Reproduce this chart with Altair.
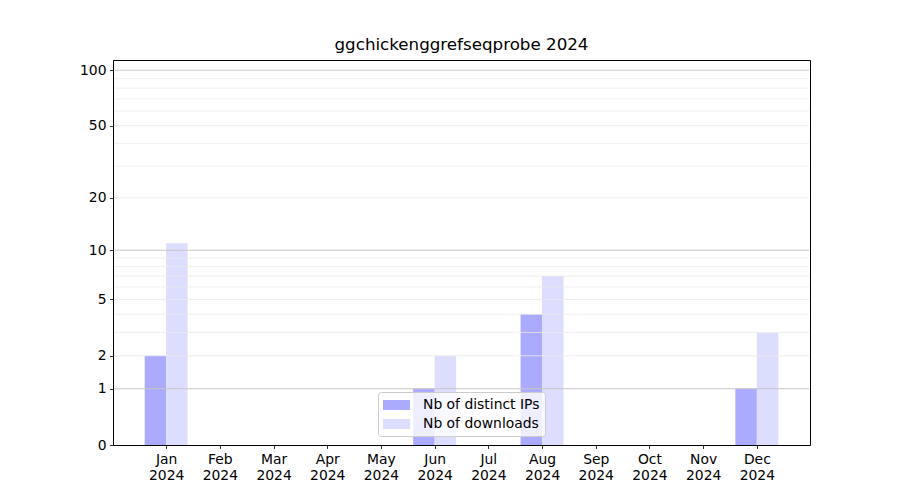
import altair as alt
import pandas as pd

months = ["Jan", "Feb", "Mar", "Apr", "May", "Jun", "Jul", "Aug", "Sep", "Oct", "Nov", "Dec"]
year = "2024"
ips = [2, 0, 0, 0, 0, 1, 0, 4, 0, 0, 0, 1]
downloads = [11, 0, 0, 0, 0, 2, 0, 7, 0, 0, 0, 3]
series_names = ["Nb of distinct IPs", "Nb of downloads"]
colors = ["#aaaaff", "#ddddff"]
y_ticks = [0, 1, 2, 5, 10, 20, 50, 100]
major_grid = [1, 10, 100]
minor_grid = [2, 3, 4, 5, 6, 7, 8, 9, 20, 30, 40, 50, 60, 70, 80, 90]
title = "ggchickenggrefseqprobe 2024"

rows = []
for i, m in enumerate(months):
    rows.append({"idx": i, "series": series_names[0], "value": ips[i]})
    rows.append({"idx": i, "series": series_names[1], "value": downloads[i]})
df = pd.DataFrame(rows)

yscale = alt.Scale(type="symlog", constant=1, domain=[0, 113.5], nice=False, zero=True)
xscale = alt.Scale(domain=[-0.99, 11.99], nice=False, zero=False)

label_arr = "[" + ",".join(f"'{m} {year}'" for m in months) + "]"
label_expr = f"split({label_arr}[round(datum.value)], ' ')"

FS = 13.9

yaxis = alt.Axis(
    values=y_ticks, title=None, grid=False, domain=False, ticks=True, tickColor="black",
    tickSize=3.5, tickWidth=0.8, labelFontSize=FS, labelColor="black",
    labelFont="DejaVu Sans", labelPadding=3.5, format="d")

bars = alt.Chart(df).transform_calculate(
    x0=f"datum.idx + (datum.series == '{series_names[0]}' ? -0.4 : 0)",
    x1=f"datum.idx + (datum.series == '{series_names[0]}' ? 0 : 0.4)",
    zero="0",
).mark_rect().encode(
    x=alt.X("x0:Q", scale=xscale, axis=alt.Axis(
        values=list(range(len(months))), labelExpr=label_expr, title=None, grid=False,
        domain=False, ticks=True, tickColor="black", tickSize=3.5, tickWidth=0.8,
        labelFontSize=FS, labelColor="black", labelFont="DejaVu Sans",
        labelPadding=4, labelLineHeight=16, labelBaseline="top")),
    x2="x1:Q",
    y=alt.Y("value:Q", scale=yscale, axis=yaxis),
    y2="zero:Q",
    color=alt.Color("series:N", scale=alt.Scale(domain=series_names, range=colors),
                    legend=alt.Legend(
                        title=None, orient="none", legendX=265, legendY=332,
                        fillColor="rgba(255,255,255,0.8)", strokeColor="#cccccc",
                        cornerRadius=3, padding=5, rowPadding=4,
                        symbolType="M-1,-0.625H2.375V0.625H-1Z", symbolSize=256,
                        symbolStrokeWidth=0, symbolOpacity=1,
                        labelFontSize=FS, labelFont="DejaVu Sans", labelColor="black",
                        labelOffset=24)),
)

minor = alt.Chart(pd.DataFrame({"v": minor_grid})).mark_rule(
    color="#ebebeb", strokeWidth=0.8, strokeCap="butt").encode(
    x=alt.value(1), x2=alt.value(696),
    y=alt.Y("v:Q", scale=yscale, axis=None))
major = alt.Chart(pd.DataFrame({"v": major_grid})).mark_rule(
    color="#c8c8c8", strokeWidth=1, strokeCap="butt").encode(
    x=alt.value(1), x2=alt.value(696),
    y=alt.Y("v:Q", scale=yscale, axis=None))

chart = alt.layer(bars, minor, major).resolve_axis(y="independent").properties(
    width=697, height=385,
    title=alt.TitleParams(title, fontSize=16.7, font="DejaVu Sans", fontWeight="normal",
                          color="black", offset=6, anchor="middle"),
    padding={"left": 105, "top": 52, "right": 80, "bottom": 50},
    autosize=alt.AutoSizeParams(type="none"),
).configure(background="white").configure_view(stroke="black", strokeWidth=1)

chart.save("out.html", embed_options={"renderer": "svg", "actions": False})
